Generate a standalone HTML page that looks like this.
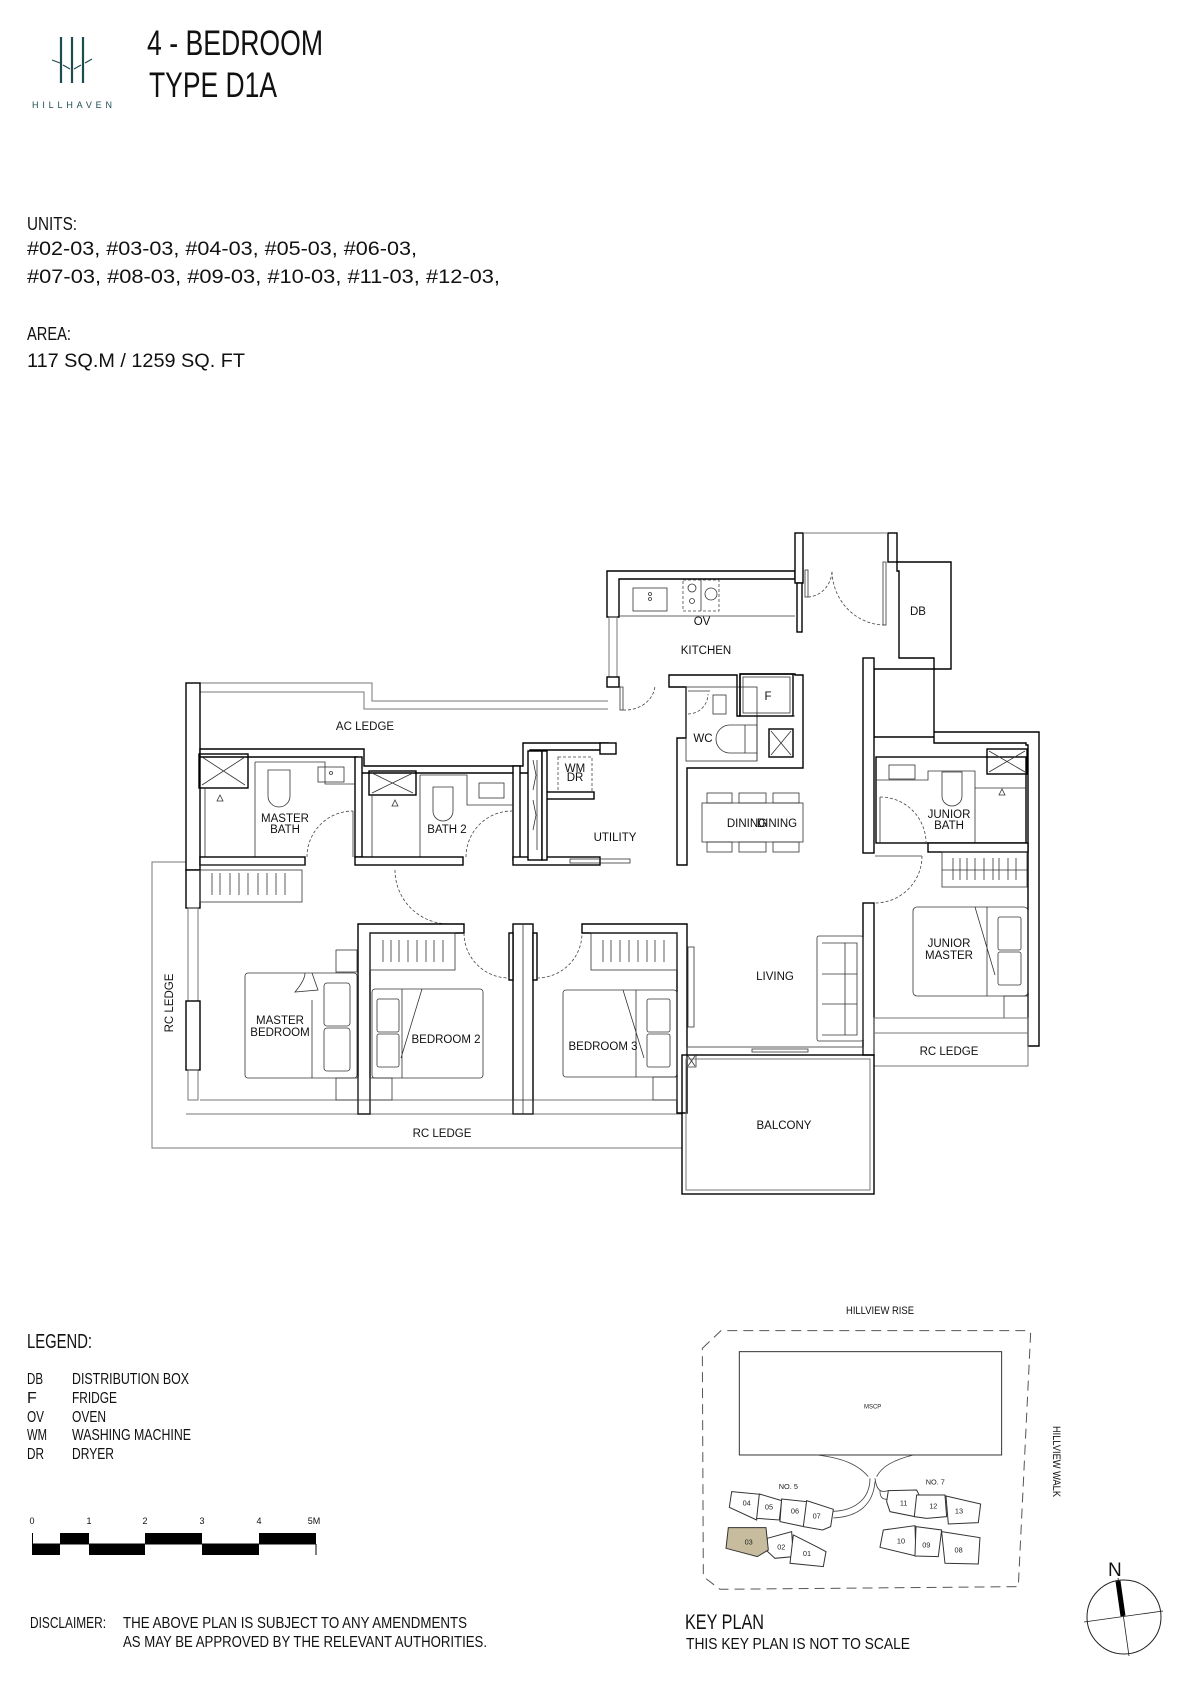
<!DOCTYPE html>
<html><head><meta charset="utf-8"><style>
html,body{margin:0;padding:0;background:#fff}
svg{display:block}
.t{font-family:"Liberation Sans",sans-serif;fill:#111}
.l{font-family:"Liberation Sans",sans-serif;font-size:11.5px;fill:#111;text-anchor:middle}
.w{fill:#fff;stroke:#000;stroke-width:1.4}
.k{fill:none;stroke:#000;stroke-width:1.4}
.g{fill:none;stroke:#777;stroke-width:1}
.f{fill:none;stroke:#333;stroke-width:0.8}
.d{fill:none;stroke:#444;stroke-width:0.8;stroke-dasharray:3 2}
</style></head><body>
<svg width="1190" height="1684" viewBox="0 0 1190 1684" xmlns="http://www.w3.org/2000/svg">
<g stroke="#1d4b4e" stroke-width="2.2" fill="none">
<line x1="61" y1="37" x2="61" y2="83"/><line x1="72" y1="37" x2="72" y2="83"/><line x1="83" y1="37" x2="83" y2="83"/>
<line x1="52" y1="60" x2="60" y2="63" stroke-width="1.2"/><line x1="63" y1="65" x2="70" y2="69" stroke-width="1.2"/>
<line x1="74" y1="69" x2="81" y2="65" stroke-width="1.2"/><line x1="85" y1="63" x2="92" y2="59" stroke-width="1.2"/>
</g>
<text x="32" y="108" font-family="Liberation Sans" font-size="9" fill="#1d4b4e" textLength="80" lengthAdjust="spacing">HILLHAVEN</text>
<text class="t" x="147" y="55" font-size="35" textLength="176" lengthAdjust="spacingAndGlyphs">4 - BEDROOM</text>
<text class="t" x="149" y="97" font-size="35" textLength="128" lengthAdjust="spacingAndGlyphs">TYPE D1A</text>
<text class="t" x="27" y="230" font-size="18" textLength="50" lengthAdjust="spacingAndGlyphs">UNITS:</text>
<text class="t" x="27" y="255" font-size="19" textLength="390" lengthAdjust="spacingAndGlyphs">#02-03,  #03-03,  #04-03,  #05-03,  #06-03,</text>
<text class="t" x="27" y="283" font-size="19" textLength="473" lengthAdjust="spacingAndGlyphs">#07-03,  #08-03,  #09-03,  #10-03,  #11-03,  #12-03,</text>
<text class="t" x="27" y="340" font-size="18" textLength="44" lengthAdjust="spacingAndGlyphs">AREA:</text>
<text class="t" x="27" y="367" font-size="19" textLength="218" lengthAdjust="spacingAndGlyphs">117  SQ.M  /  1259  SQ.  FT</text>

<path class="g" d="M200 862 H152 V1148 H682"/>
<path class="g" d="M186 1114 H682 M200 1100 H687"/>
<path class="g" d="M200 683 H372 V701 H608 M200 692 H364 V709 H608"/>
<rect class="w" x="186" y="683" width="14" height="187"/>
<rect class="w" x="186" y="870" width="14" height="38"/>
<rect class="g" x="188" y="908" width="10" height="93"/>
<rect class="w" x="186" y="1001" width="14" height="69"/>
<rect class="g" x="188" y="1070" width="10" height="30"/>
<path class="w" d="M200 749 H364 V766 H523 V743 H608 V750 H530 V773 H357 V757 H200 Z"/>
<rect class="w" x="355" y="757" width="7" height="100"/>
<rect class="k" x="199" y="754" width="49" height="34"/>
<path class="f" d="M202 757 L245 785 M245 757 L202 785"/>
<path class="f" d="M205 788 V857 M255 762 V857 M255 762 H325 V784 H355 M268 770 H290 V796 A11 11 0 0 1 268 796 Z"/>
<rect class="f" x="318" y="767" width="26" height="15"/>
<circle class="f" cx="331" cy="773" r="1.5"/>
<path class="f" d="M220 795 l-3 6 h6 z"/>
<path class="d" d="M307 857 A46 46 0 0 1 353 811"/>
<line class="f" x1="353" y1="811" x2="353" y2="857"/>
<rect class="w" x="513" y="766" width="7" height="94"/>
<rect class="k" x="369" y="771" width="47" height="24"/>
<path class="f" d="M372 773 L413 793 M413 773 L372 793"/>
<path class="f" d="M372 795 V857 M420 775 V857 M420 775 H467 V805 H513"/>
<path class="f" d="M433 787 H453 V811 A10 10 0 0 1 433 811 Z"/>
<rect class="f" x="479" y="783" width="25" height="15"/>
<path class="f" d="M395 800 l-3 6 h6 z"/>
<path class="d" d="M466 857 A46 46 0 0 1 512 811"/>
<rect class="w" x="200" y="857" width="105" height="8"/>
<rect class="w" x="355" y="857" width="108" height="8"/>
<rect class="w" x="513" y="857" width="87" height="8"/>
<rect class="w" x="528" y="751" width="14" height="109"/>
<path class="f" d="M533 760 l3 15 l-3 15 M533 800 l3 15 l-3 15 M537 760 v90"/>
<rect class="d" x="558" y="757" width="34" height="35"/>
<rect class="w" x="546" y="792" width="48" height="7"/>
<rect class="w" x="542" y="751" width="5" height="109"/>
<rect class="f" x="570" y="859" width="60" height="4"/>
<path class="w" d="M607 571 H795 V579 H619 V617 H607 Z"/>
<rect class="g" x="609" y="617" width="8" height="60"/>
<line class="f" x1="619" y1="616" x2="795" y2="616"/>
<rect class="f" x="633" y="588" width="34" height="23"/>
<circle class="f" cx="650" cy="594" r="1.5"/><circle class="f" cx="650" cy="599" r="1.5"/>
<rect class="d" x="683" y="580" width="36" height="31"/>
<line class="f" x1="701" y1="580" x2="701" y2="611"/>
<circle class="f" cx="692" cy="588" r="4"/><circle class="f" cx="692" cy="601" r="2.5"/><circle class="f" cx="711" cy="594" r="6"/>
<rect class="w" x="795" y="533" width="8" height="50"/>
<rect class="w" x="797" y="583" width="5" height="49"/>
<rect class="w" x="888" y="533" width="9" height="29"/>
<line class="g" x1="803" y1="533" x2="888" y2="533"/>
<rect class="f" x="805" y="570" width="3" height="27"/>
<rect class="f" x="883" y="562" width="3" height="63"/>
<path class="d" d="M808 597 A25 27 0 0 0 832 570 M885 625 A53 55 0 0 1 832 570"/>
<rect class="f" x="899" y="571" width="35" height="87"/>
<path class="w" d="M897 562 H951 V669 H874 V737 H934 V732 H1039 V1046 H1028 V745 H1026 V743 H934 V658 H899 V571 H897 Z"/>
<rect class="w" x="863" y="658" width="11" height="195"/>
<rect class="w" x="863" y="903" width="11" height="152"/>
<path class="w" d="M669 675 H737 V716 H740 V674 H795 V675 H803 V768 H687 V865 H677 V738 H686 V687 H669 Z"/>
<rect class="f" x="686" y="687" width="71" height="74" fill="#fff"/>
<path class="f" d="M757 716 H795 M757 716 V761"/>
<rect class="k" x="740" y="674" width="53" height="42"/>
<rect class="f" x="743" y="677" width="47" height="36"/>
<rect class="k" x="769" y="729" width="24" height="28"/>
<path class="f" d="M771 731 L791 755 M791 731 L771 755"/>
<path class="f" d="M745 725 H757 V753 H730 A14 14 0 0 1 730 725 Z M745 725 V753"/>
<rect class="f" x="713" y="695" width="13" height="19"/>
<path class="d" d="M688 714 A20 20 0 0 0 708 694"/>
<line class="f" x1="688" y1="691" x2="710" y2="691"/>
<rect class="w" x="600" y="743" width="16" height="11"/>
<rect class="w" x="607" y="677" width="12" height="10"/>
<rect class="f" x="620" y="687" width="3" height="23"/>
<path class="d" d="M623 710 A30 26 0 0 0 655 686"/>
<rect class="f" x="702" y="803" width="101" height="39"/>
<g class="f"><rect x="707" y="793" width="25" height="10"/><rect x="739" y="793" width="27" height="10"/><rect x="773" y="793" width="26" height="10"/>
<rect x="707" y="842" width="25" height="10"/><rect x="739" y="842" width="27" height="10"/><rect x="773" y="842" width="26" height="10"/></g>
<rect class="k" x="876" y="757" width="150" height="86"/>
<path class="f" d="M876 780 H928 V771 H975 V788 H1026 M975 788 V843"/>
<rect class="f" x="889" y="765" width="26" height="14"/>
<path class="f" d="M942 772 H962 V796 A10 10 0 0 1 942 796 Z"/>
<rect class="k" x="987" y="749" width="40" height="25"/>
<path class="f" d="M989 751 L1025 772 M1025 751 L989 772 M1002 789 l-3 6 h6 z"/>
<line class="f" x1="880" y1="797" x2="880" y2="843"/>
<path class="d" d="M880 797 A46 46 0 0 1 926 843"/>
<rect class="w" x="928" y="843" width="100" height="9"/>
<rect class="f" x="942" y="852" width="85" height="35"/>
<line class="f" x1="942" y1="870" x2="1027" y2="870"/>
<g class="f"><line x1="953" y1="858" x2="953" y2="880"/><line x1="960" y1="858" x2="960" y2="880"/><line x1="967" y1="858" x2="967" y2="880"/><line x1="975" y1="858" x2="975" y2="880"/><line x1="984" y1="858" x2="984" y2="880"/><line x1="993" y1="858" x2="993" y2="880"/><line x1="999" y1="858" x2="999" y2="880"/><line x1="1008" y1="858" x2="1008" y2="880"/><line x1="1016" y1="858" x2="1016" y2="880"/></g>
<line class="f" x1="875" y1="856" x2="922" y2="856"/>
<path class="d" d="M922 856 A47 47 0 0 1 875 903"/>
<rect class="f" x="913" y="907" width="115" height="89" rx="4"/>
<path class="f" d="M975 907 L995 975 M987 907 V996"/>
<rect class="f" x="998" y="917" width="23" height="33" rx="2"/><rect class="f" x="998" y="952" width="23" height="33" rx="2"/>
<rect class="f" x="1004" y="996" width="24" height="22"/>
<rect class="g" x="874" y="1018" width="154" height="15"/>
<rect class="g" x="874" y="1033" width="154" height="33"/>
<rect class="f" x="200" y="870" width="102" height="32"/>
<line class="f" x1="200" y1="865" x2="305" y2="865"/>
<g class="f"><line x1="212" y1="873" x2="212" y2="895"/><line x1="220" y1="873" x2="220" y2="895"/><line x1="230" y1="873" x2="230" y2="895"/><line x1="239" y1="873" x2="239" y2="895"/><line x1="248" y1="873" x2="248" y2="895"/><line x1="258" y1="873" x2="258" y2="895"/><line x1="267" y1="873" x2="267" y2="895"/><line x1="276" y1="873" x2="276" y2="895"/><line x1="285" y1="873" x2="285" y2="895"/></g>
<path class="d" d="M395 870 A54 54 0 0 0 449 924"/>
<path class="w" d="M358 924 H464 V933 H370 V1114 H358 Z"/>
<rect class="w" x="513" y="924" width="20" height="190"/>
<line class="f" x1="523" y1="924" x2="523" y2="1114"/>
<rect class="w" x="509" y="933" width="4" height="47"/><rect class="w" x="533" y="933" width="4" height="47"/>
<path class="d" d="M464 933 A45 45 0 0 0 509 978 M537 978 A45 45 0 0 0 582 933"/>
<path class="w" d="M582 924 H687 V1113 H677 V933 H582 Z"/>
<rect class="f" x="370" y="933" width="85" height="37"/>
<rect class="f" x="591" y="933" width="86" height="37"/>
<g class="f"><line x1="383" y1="940" x2="383" y2="962"/><line x1="391" y1="940" x2="391" y2="962"/><line x1="399" y1="940" x2="399" y2="962"/><line x1="408" y1="940" x2="408" y2="962"/><line x1="417" y1="940" x2="417" y2="962"/><line x1="426" y1="940" x2="426" y2="962"/><line x1="434" y1="940" x2="434" y2="962"/><line x1="443" y1="940" x2="443" y2="962"/>
<line x1="603" y1="940" x2="603" y2="962"/><line x1="611" y1="940" x2="611" y2="962"/><line x1="620" y1="940" x2="620" y2="962"/><line x1="629" y1="940" x2="629" y2="962"/><line x1="638" y1="940" x2="638" y2="962"/><line x1="647" y1="940" x2="647" y2="962"/><line x1="655" y1="940" x2="655" y2="962"/><line x1="664" y1="940" x2="664" y2="962"/></g>
<rect class="f" x="245" y="973" width="112" height="105" rx="3"/>
<path class="f" d="M312 973 L318 990 L295 992 Q305 980 305 973 M312 1000 V1078"/>
<rect class="f" x="324" y="983" width="26" height="43" rx="3"/><rect class="f" x="324" y="1028" width="26" height="43" rx="3"/>
<rect class="f" x="336" y="950" width="21" height="22"/><rect class="f" x="336" y="1078" width="22" height="22"/>
<rect class="f" x="372" y="989" width="111" height="89" rx="3"/>
<path class="f" d="M402 989 V1078 M422 989 L401 1058"/>
<rect class="f" x="377" y="999" width="22" height="33" rx="2"/><rect class="f" x="377" y="1034" width="22" height="33" rx="2"/>
<rect class="f" x="370" y="1078" width="22" height="22"/>
<rect class="f" x="563" y="990" width="114" height="87" rx="3"/>
<path class="f" d="M636 990 V1077 M623 990 L644 1058"/>
<rect class="f" x="647" y="999" width="23" height="33" rx="2"/><rect class="f" x="647" y="1034" width="23" height="33" rx="2"/>
<rect class="f" x="653" y="1077" width="24" height="23"/>
<rect class="f" x="358" y="1100" width="12" height="14"/><rect class="f" x="513" y="1100" width="20" height="14"/>
<rect class="f" x="688" y="947" width="6" height="80"/>
<rect class="f" x="817" y="936" width="46" height="105" rx="2"/>
<path class="f" d="M822 943 H857 V1035 H822 M845 943 V1035 M822 974 H857 M822 1004 H857"/>
<rect class="f" x="687" y="1047" width="176" height="8"/>
<rect class="f" x="752" y="1049" width="56" height="3"/>
<rect class="f" x="687" y="1055" width="9" height="12"/>
<path class="f" d="M688 1056 L695 1066 M695 1056 L688 1066"/>
<rect class="k" x="682" y="1055" width="192" height="139" stroke-width="1"/>
<rect class="g" x="686" y="1059" width="184" height="131"/>

<text class="l" x="365" y="730">AC LEDGE</text>
<text class="l" x="285" y="822">MASTER</text><text class="l" x="285" y="833">BATH</text>
<text class="l" x="447" y="833">BATH 2</text>
<text class="l" x="615" y="841">UTILITY</text>
<text class="l" x="706" y="654">KITCHEN</text>
<text class="l" x="703" y="742">WC</text>
<text class="l" x="747" y="827">DINING</text><text class="l" x="777" y="827">DINING</text>
<text class="l" x="949" y="818">JUNIOR</text><text class="l" x="949" y="829">BATH</text>
<text class="l" x="280" y="1024">MASTER</text><text class="l" x="280" y="1036">BEDROOM</text>
<text class="l" x="446" y="1043">BEDROOM 2</text>
<text class="l" x="603" y="1050">BEDROOM 3</text>
<text class="l" x="775" y="980">LIVING</text>
<text class="l" x="949" y="947">JUNIOR</text><text class="l" x="949" y="959">MASTER</text>
<text class="l" x="949" y="1055">RC LEDGE</text>
<text class="l" x="442" y="1137">RC LEDGE</text>
<text class="l" x="784" y="1129">BALCONY</text>
<text class="l" transform="translate(173 1003) rotate(-90)">RC LEDGE</text>
<text class="l" x="918" y="615" font-size="8">DB</text>
<text class="l" x="768" y="700" font-size="8">F</text>
<text class="l" x="702" y="625" font-size="8">OV</text>
<text class="l" x="575" y="772" font-size="8">WM</text><text class="l" x="575" y="781" font-size="8">DR</text>

<!-- LEGEND -->
<text class="t" x="27" y="1348" font-size="20" textLength="65" lengthAdjust="spacingAndGlyphs">LEGEND:</text>
<g class="t" font-size="16">
<text x="27" y="1384" textLength="16" lengthAdjust="spacingAndGlyphs">DB</text><text x="72" y="1384" textLength="117" lengthAdjust="spacingAndGlyphs">DISTRIBUTION  BOX</text>
<text x="27" y="1403">F</text><text x="72" y="1403" textLength="45" lengthAdjust="spacingAndGlyphs">FRIDGE</text>
<text x="27" y="1422" textLength="17" lengthAdjust="spacingAndGlyphs">OV</text><text x="72" y="1422" textLength="34" lengthAdjust="spacingAndGlyphs">OVEN</text>
<text x="27" y="1440" textLength="20" lengthAdjust="spacingAndGlyphs">WM</text><text x="72" y="1440" textLength="119" lengthAdjust="spacingAndGlyphs">WASHING  MACHINE</text>
<text x="27" y="1459" textLength="17" lengthAdjust="spacingAndGlyphs">DR</text><text x="72" y="1459" textLength="42" lengthAdjust="spacingAndGlyphs">DRYER</text>
</g>
<g class="t" font-size="9" text-anchor="middle">
<text x="32" y="1524">0</text><text x="89" y="1524">1</text><text x="145" y="1524">2</text><text x="202" y="1524">3</text><text x="259" y="1524">4</text><text x="314" y="1524">5M</text>
</g>
<g fill="#000">
<rect x="60" y="1533" width="29" height="11"/><rect x="145" y="1533" width="57" height="11"/><rect x="259" y="1533" width="57" height="11"/>
<rect x="32" y="1544" width="28" height="11"/><rect x="89" y="1544" width="56" height="11"/><rect x="202" y="1544" width="57" height="11"/>
</g>
<path d="M32.5 1533 V1544 H316 M316 1544 V1555" stroke="#000" stroke-width="1" fill="none"/>
<g class="t" font-size="16">
<text x="30" y="1628" textLength="76" lengthAdjust="spacingAndGlyphs">DISCLAIMER:</text>
<text x="123" y="1628" textLength="344" lengthAdjust="spacingAndGlyphs">THE  ABOVE  PLAN  IS  SUBJECT  TO  ANY  AMENDMENTS</text>
<text x="123" y="1647" textLength="364" lengthAdjust="spacingAndGlyphs">AS  MAY  BE  APPROVED  BY  THE  RELEVANT  AUTHORITIES.</text>
</g>

<!-- KEY PLAN -->
<text class="t" x="846" y="1314" font-size="11" textLength="68" lengthAdjust="spacingAndGlyphs">HILLVIEW RISE</text>
<g transform="translate(660 1300) scale(0.3333)">
<path d="M127 145 L183 92 H1105 L1112 100 L1075 860 L180 868 L130 830 Z" fill="none" stroke="#555" stroke-width="3" stroke-dasharray="30 18"/>
<rect x="238" y="155" width="787" height="310" fill="none" stroke="#333" stroke-width="3"/>
<g fill="none" stroke="#444" stroke-width="2.5">
<path d="M470 465 C560 475 600 500 625 530 M760 465 C700 480 665 500 650 530 M630 535 C630 600 580 632 520 634 M645 535 C650 575 665 578 685 572 M645 545 C640 610 600 650 520 654 M660 572 C660 595 670 598 680 598"/>
</g>
<g fill="#fff" stroke="#333" stroke-width="3">
<polygon points="215,575 300,583 290,660 208,622"/>
<polygon points="298,582 365,602 358,660 290,655"/>
<polygon points="365,597 440,605 432,680 360,665"/>
<polygon points="440,602 520,628 512,680 488,690 430,680"/>
<polygon points="322,715 395,695 400,770 345,775 320,752"/>
<polygon points="400,705 470,740 498,755 490,800 390,790"/>
<polygon points="685,572 770,570 785,600 765,650 690,635 680,605"/>
<polygon points="770,585 855,585 860,650 800,655 763,650"/>
<polygon points="858,588 962,612 955,668 865,672"/>
<polygon points="670,690 765,677 768,768 660,742"/>
<polygon points="768,680 845,690 835,770 765,768"/>
<polygon points="845,695 960,713 955,792 855,790"/>
<polygon points="205,683 318,683 325,750 292,770 198,745" fill="#c8bc9e"/>
</g>
<g font-family="Liberation Sans" font-size="22" fill="#222" text-anchor="middle">
<text x="638" y="325" font-size="18">MSCP</text>
<text x="385" y="567">NO. 5</text><text x="826" y="553">NO. 7</text>
<text x="260" y="617">04</text><text x="327" y="628">05</text><text x="405" y="640">06</text><text x="470" y="655">07</text>
<text x="266" y="733">03</text><text x="364" y="749">02</text><text x="441" y="768">01</text>
<text x="731" y="617">11</text><text x="820" y="625">12</text><text x="897" y="640">13</text>
<text x="723" y="730">10</text><text x="799" y="743">09</text><text x="896" y="757">08</text>
</g>
</g>
<text class="t" font-size="11" transform="translate(1053 1426) rotate(90)" textLength="71" lengthAdjust="spacingAndGlyphs">HILLVIEW WALK</text>
<text class="t" x="685" y="1629" font-size="21" textLength="79" lengthAdjust="spacingAndGlyphs">KEY  PLAN</text>
<text class="t" x="686" y="1649" font-size="16" textLength="224" lengthAdjust="spacingAndGlyphs">THIS  KEY  PLAN  IS  NOT  TO  SCALE</text>
<circle cx="1124" cy="1617" r="37" fill="none" stroke="#222" stroke-width="1"/>
<line x1="1084" y1="1622" x2="1163" y2="1611" stroke="#222" stroke-width="0.8"/>
<line x1="1118" y1="1578" x2="1129" y2="1656" stroke="#222" stroke-width="0.8"/>
<line x1="1118" y1="1581" x2="1123" y2="1616" stroke="#000" stroke-width="5"/>
<text class="t" x="1108" y="1576" font-size="19">N</text>
</svg>
</body></html>
